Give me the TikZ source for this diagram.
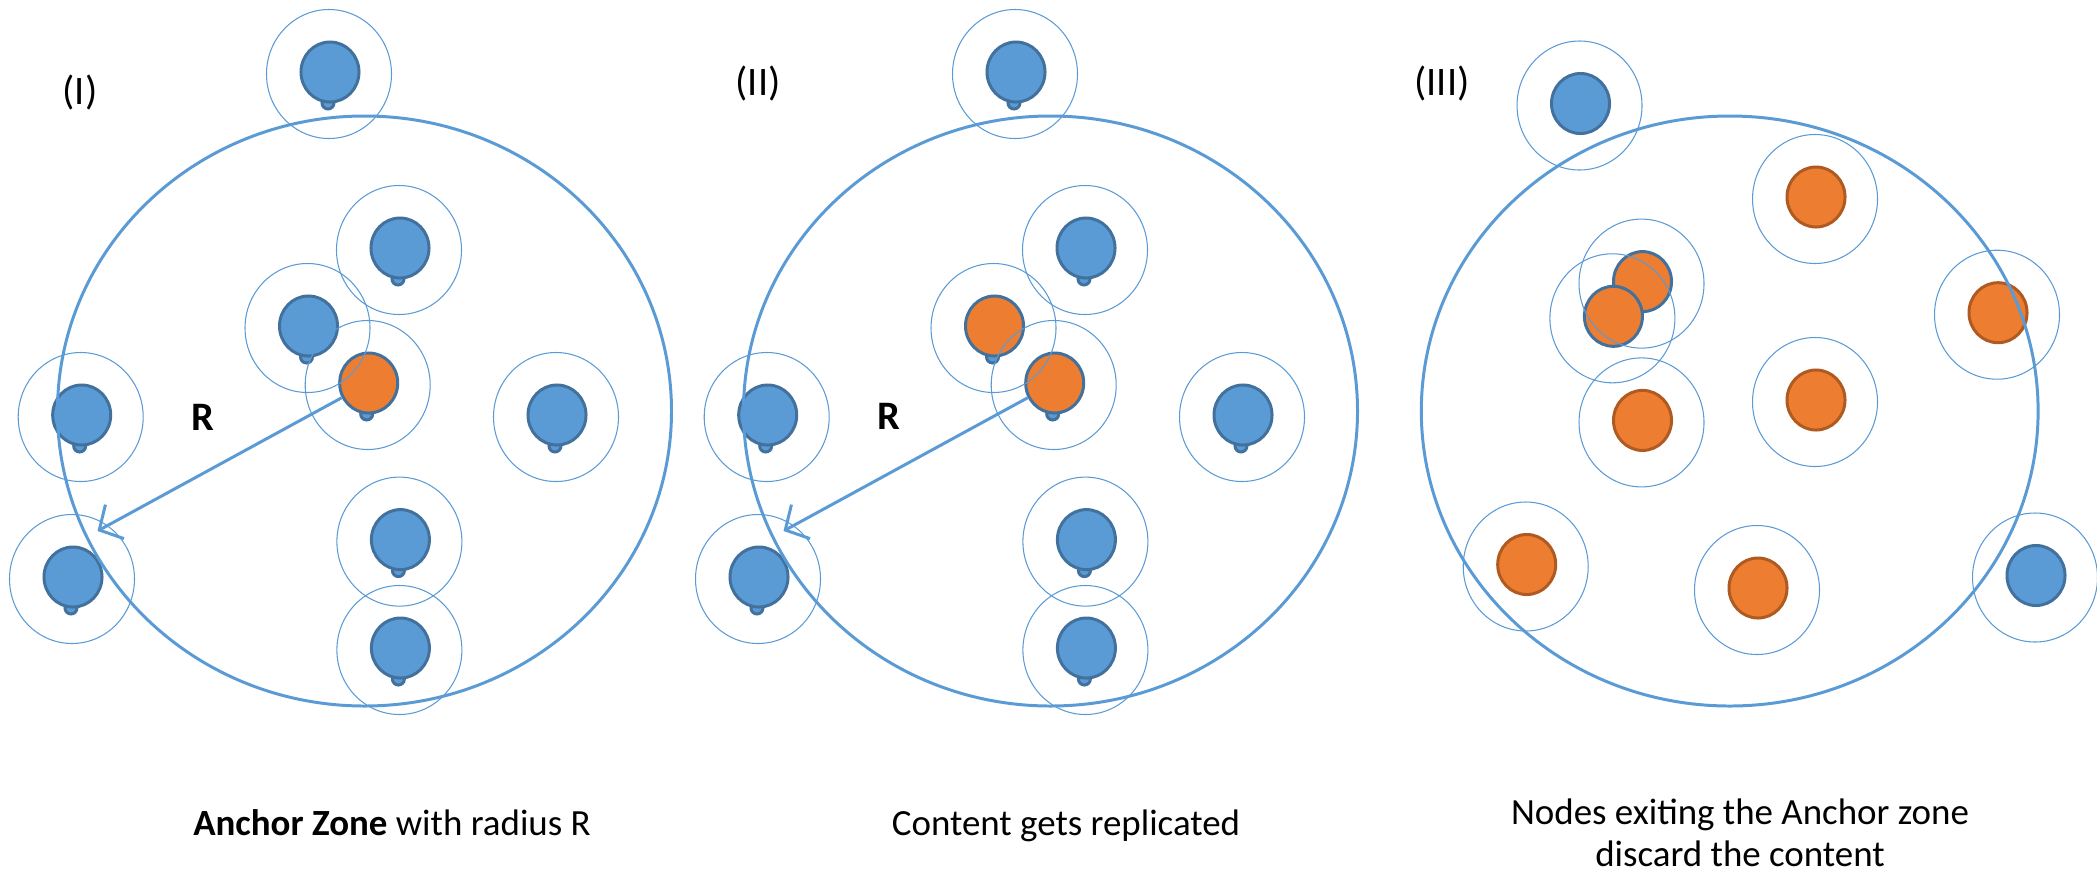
\documentclass[tikz,border=0pt]{standalone}
\usepackage{fontspec}
\setmainfont{Carlito}
\usetikzlibrary{arrows.meta,shapes.geometric}

\definecolor{nodeblue}{RGB}{91,155,213}
\definecolor{nodeline}{RGB}{65,113,156}
\definecolor{nodeorange}{RGB}{237,125,49}
\definecolor{orangeline}{RGB}{174,90,33}

\tikzset{
  zone/.style={draw=nodeblue,line width=0.85pt},
  radioring/.style={draw=nodeblue,line width=0.3pt},
  peer/.style={ellipse,draw=nodeline,fill=nodeblue,line width=0.85pt,
    minimum width=5.8mm,minimum height=6mm,inner sep=0pt},
  holder/.style={peer,fill=nodeorange},
  dropped/.style={holder,draw=orangeline},
  tail/.style={draw=nodeline,fill=nodeblue,line width=0.85pt},
  reach/.style={draw=nodeblue,line width=0.85pt,
    -{Straight Barb[length=5pt,width=11pt]}},
  lbl/.style={font=\fontsize{11.5}{13}\selectfont},
  caption/.style={font=\fontsize{10.5}{11.8}\selectfont,align=center,inner sep=0pt}
}

\begin{document}
\begin{tikzpicture}[x=0.01cm,y=-0.01cm]
\useasboundingbox (0,0) rectangle (2097,872);

% (I) anchor zone
\node[lbl] (p1) at (80,93) {(I)};
\foreach \x/\y in {330/72,400/248,308.5/326,368.7/383,81.7/415,557/415,73/577,400.4/539.6,400.4/648}
  \draw[tail] (\x-2,\y+31) circle [radius=6];
\node[peer] (a1) at (330,72) {};
\node[peer] (b1) at (400,248) {};
\node[peer] (c1) at (308.5,326) {};
\node[holder] (d1) at (368.7,383) {};
\node[peer] (e1) at (81.7,415) {};
\node[peer] (f1) at (557,415) {};
\node[peer] (g1) at (73,577) {};
\node[peer] (h1) at (400.4,539.6) {};
\node[peer] (i1) at (400.4,648) {};
\foreach \n in {a1,b1,c1,d1,e1,f1,g1,h1,i1}
  \draw[radioring] ([shift={(-1,2)}]\n.center) ellipse [x radius=62.5,y radius=64.5];
\draw[zone] (364.5,411) ellipse [x radius=307,y radius=295];
\coordinate (t1) at (97.5,531);
\draw[reach] (d1) -- (t1);
\node[lbl] (r1) at (203,417) {\textbf{R}};
\node[caption,anchor=base] (cap1) at (392,835) {\textbf{Anchor Zone} with radius R};

% (II) same layout, content copied
\begin{scope}[shift={(686,0)}]
\node[lbl] (p2) at (72,84) {(II)};
\foreach \x/\y in {330/72,400/248,308.5/326,368.7/383,81.7/415,557/415,73/577,400.4/539.6,400.4/648}
  \draw[tail] (\x-2,\y+31) circle [radius=6];
\node[peer] (a2) at (330,72) {};
\node[peer] (b2) at (400,248) {};
\node[holder] (c2) at (308.5,326) {};
\node[holder] (d2) at (368.7,383) {};
\node[peer] (e2) at (81.7,415) {};
\node[peer] (f2) at (557,415) {};
\node[peer] (g2) at (73,577) {};
\node[peer] (h2) at (400.4,539.6) {};
\node[peer] (i2) at (400.4,648) {};
\foreach \n in {a2,b2,c2,d2,e2,f2,g2,h2,i2}
  \draw[radioring] ([shift={(-1,2)}]\n.center) ellipse [x radius=62.5,y radius=64.5];
\draw[zone] (364.5,411) ellipse [x radius=307,y radius=295];
\coordinate (t2) at (97.5,531);
\draw[reach] (d2) -- (t2);
\node[lbl] (r2) at (203,416) {\textbf{R}};
\node[caption,anchor=base] (cap2) at (380,835) {Content gets replicated};
\end{scope}

% (III) nodes leaving the zone
\node[lbl] (p3) at (1442,84) {(III)};
\node[peer] (a3) at (1580.5,103.5) {};
\node[dropped] (b3) at (1816,197) {};
\node[holder] (c3) at (1642.5,281.6) {};
\node[holder] (d3) at (1613.4,316.3) {};
\node[dropped] (e3) at (1998,312.7) {};
\node[dropped] (f3) at (1642.5,420.4) {};
\node[dropped] (g3) at (1816,400) {};
\node[dropped] (h3) at (1526.7,564.5) {};
\node[dropped] (i3) at (1758,588) {};
\node[peer] (j3) at (2036,575.5) {};
\foreach \n in {a3,b3,c3,d3,e3,f3,g3,h3,i3,j3}
  \draw[radioring] ([shift={(-1,2)}]\n.center) ellipse [x radius=62.5,y radius=64.5];
\draw[zone] (1729.7,411) ellipse [x radius=308.4,y radius=295];
\node[caption] (cap3) at (1740,833) {Nodes exiting the Anchor zone\\discard the content};
\end{tikzpicture}
\end{document}
